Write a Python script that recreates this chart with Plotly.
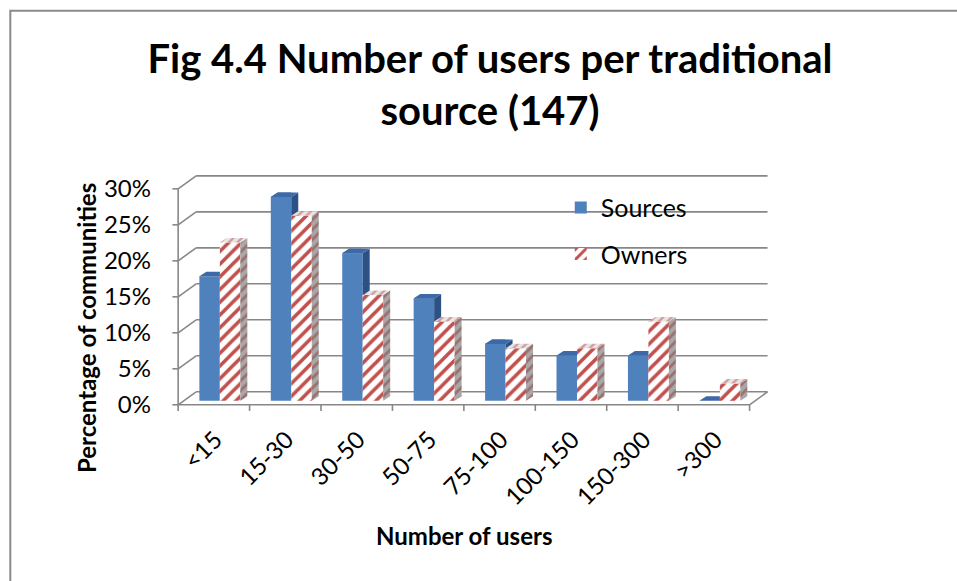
import plotly.graph_objects as go

# ---- data -------------------------------------------------------------
categories = ["<15", "15-30", "30-50", "50-75", "75-100", "100-150", "150-300", ">300"]
sources = [17.3, 28.3, 20.5, 14.2, 7.9, 6.3, 6.3, 0.0]
owners = [22.0, 25.7, 14.7, 11.0, 7.3, 7.3, 11.0, 2.4]
y_ticks = [0, 5, 10, 15, 20, 25, 30]

# ---- layout geometry (pixels) ----------------------------------------
W, H = 957, 581
X_PX = 71.5          # pixels per category
Y_PX = 7.2           # pixels per percentage point
AX_X = 178           # front vertical axis
ZERO_Y = 405         # front floor edge

X_MIN, X_MAX = -0.6, 7.8
Y_MIN, Y_MAX = -1.0, 32.2


def px(x):
    return AX_X + (x + 0.5) * X_PX


def py(y):
    return ZERO_Y - y * Y_PX


M_L = px(X_MIN)
M_R = W - px(X_MAX)
M_T = py(Y_MAX)
M_B = H - py(Y_MIN)
PW = W - M_L - M_R
PH = H - M_T - M_B


def paper_x(pix):
    return (pix - M_L) / PW


def paper_y(piy):
    return (H - M_B - piy) / PH


# pseudo-3D offsets (data units)
WALL_DX, WALL_DY = 18 / X_PX, 13 / Y_PX     # back wall
BAR_DX, BAR_DY = 6 / X_PX, 4 / Y_PX         # plane of the columns
DEP_DX, DEP_DY = 7 / X_PX, 4.5 / Y_PX       # column depth
BAR_W = 20.5 / X_PX

BLUE = "#4F81BD"
BLUE_TOP = "#3D69A6"
BLUE_SIDE = "#2D5185"
RED = "#C0504D"
GRID = "#878787"
FONT = "Lato"

idx = list(range(len(categories)))

fig = go.Figure()

fig.add_trace(go.Bar(
    x=idx, y=sources, base=BAR_DY, width=BAR_W, offset=BAR_DX - BAR_W,
    name="Sources", marker=dict(color=BLUE, line=dict(width=0)),
    legendgroup="s", customdata=categories,
    hovertemplate="%{customdata}: %{y:.1f}%<extra>Sources</extra>",
))
fig.add_trace(go.Bar(
    x=idx, y=owners, base=BAR_DY, width=BAR_W, offset=BAR_DX,
    name="Owners",
    marker=dict(color=RED, line=dict(width=0),
                pattern=dict(shape="/", fgcolor=RED, bgcolor="white",
                             size=9, solidity=0.4, fillmode="replace")),
    legendgroup="o", customdata=categories,
    hovertemplate="%{customdata}: %{y:.1f}%<extra>Owners</extra>",
))


def clip(poly, axis, keep_greater, c):
    k = 0 if axis == "x" else 1

    def inside(p):
        return p[k] > c if keep_greater else p[k] < c

    def cross(a, b):
        t = (c - a[k]) / (b[k] - a[k])
        return (a[0] + t * (b[0] - a[0]), a[1] + t * (b[1] - a[1]))

    out = []
    for i in range(len(poly)):
        cur, prev = poly[i], poly[i - 1]
        if inside(cur):
            if not inside(prev):
                out.append(cross(prev, cur))
            out.append(cur)
        elif inside(prev):
            out.append(cross(prev, cur))
    return out


def face(poly, color, pattern=None):
    if len(poly) < 3:
        return
    xs = [p[0] for p in poly] + [poly[0][0]]
    ys = [p[1] for p in poly] + [poly[0][1]]
    kw = dict(x=xs, y=ys, mode="lines", line=dict(width=0), fill="toself",
              fillcolor=color, hoverinfo="skip", showlegend=False)
    if pattern:
        kw["fillpattern"] = pattern
    fig.add_trace(go.Scatter(**kw))


def top_face(x0, x1, top):
    return [(x0, top), (x1, top), (x1 + DEP_DX, top + DEP_DY), (x0 + DEP_DX, top + DEP_DY)]


def side_face(x1, top):
    return [(x1, BAR_DY), (x1, top), (x1 + DEP_DX, top + DEP_DY), (x1 + DEP_DX, BAR_DY + DEP_DY)]


# Sources column top/side, trimmed where the Owners column stands in front
for i, (vs, vo) in enumerate(zip(sources, owners)):
    x0 = i + BAR_DX - BAR_W
    x1 = i + BAR_DX
    top = BAR_DY + vs
    cover = BAR_DY + vo
    face(clip(side_face(x1, top), "y", True, cover), BLUE_SIDE)
    tf = top_face(x0, x1, top)
    face(clip(tf, "x", False, x1), BLUE_TOP)
    face(clip(tf, "y", True, cover), BLUE_TOP)

# Owners column top/side
for i, vo in enumerate(owners):
    x0 = i + BAR_DX
    x1 = x0 + BAR_W
    top = BAR_DY + vo
    face(side_face(x1, top), "#A8A8A8",
         dict(shape="/", fgcolor="#8C3836", bgcolor="#A8A8A8", size=7, solidity=0.4))
    face(top_face(x0, x1, top), "#E6E6E6",
         dict(shape="/", fgcolor=RED, bgcolor="#E6E6E6", size=6, solidity=0.4))

# walls, floor, gridlines
shapes = []


def seg(xa, ya, xb, yb, width=1.6):
    shapes.append(dict(type="line", xref="x", yref="y", x0=xa, y0=ya, x1=xb, y1=yb,
                       line=dict(color=GRID, width=width), layer="below"))


left, right = -0.5, 7.5
for v in y_ticks:
    seg(left + WALL_DX, v + WALL_DY, right + WALL_DX, v + WALL_DY)   # back wall
    seg(left, v, left + WALL_DX, v + WALL_DY)                        # side wall
    seg(left - 0.08, v, left, v)                                     # tick
seg(left, 0, right, 0)
seg(right, 0, right + WALL_DX, WALL_DY)
seg(left, 0, left, 30)
for k in range(len(categories) + 1):
    seg(left + k, 0, left + k, -0.85)

# chart border
shapes.append(dict(type="rect", xref="paper", yref="paper",
                   x0=paper_x(10), y0=paper_y(620), x1=paper_x(1000), y1=paper_y(11),
                   line=dict(color="#8A8A8A", width=2), fillcolor="rgba(0,0,0,0)"))

annotations = [
    dict(text="<b>Number of users</b>", x=paper_x(464), y=paper_y(536),
         xref="paper", yref="paper", showarrow=False, xanchor="center", yanchor="middle",
         font=dict(family=FONT, size=24, color="black")),
    dict(text="<b>Percentage of communities</b>", x=paper_x(87), y=paper_y(328),
         xref="paper", yref="paper", showarrow=False, textangle=-90,
         xanchor="center", yanchor="middle",
         font=dict(family=FONT, size=24, color="black")),
]

fig.update_layout(
    width=W, height=H,
    margin=dict(l=M_L, r=M_R, t=M_T, b=M_B, pad=0, autoexpand=False),
    paper_bgcolor="white", plot_bgcolor="white",
    barmode="overlay",
    title=dict(text="<b>Fig 4.4 Number of users per traditional<br>source (147)</b>",
               x=490 / W, y=1 - 73 / H, xref="container", yref="container",
               xanchor="center", yanchor="middle",
               font=dict(family=FONT, size=40, color="black")),
    xaxis=dict(range=[X_MIN, X_MAX], tickvals=[i + 0.02 for i in idx], ticktext=categories,
               tickangle=-45, ticks="", showgrid=False, zeroline=False, showline=False,
               ticklabelstandoff=8,
               tickfont=dict(family=FONT, size=24, color="black")),
    yaxis=dict(range=[Y_MIN, Y_MAX], tickvals=y_ticks, ticktext=[f"{v}%" for v in y_ticks],
               ticks="", showgrid=False, zeroline=False, showline=False,
               ticklabelstandoff=19,
               tickfont=dict(family=FONT, size=24, color="black")),
    legend=dict(x=paper_x(561), y=paper_y(185), xanchor="left", yanchor="top",
                bgcolor="rgba(0,0,0,0)", borderwidth=0, traceorder="grouped",
                tracegroupgap=11, font=dict(family=FONT, size=25, color="black")),
    shapes=shapes,
    annotations=annotations,
)

fig.write_html("out.html")
